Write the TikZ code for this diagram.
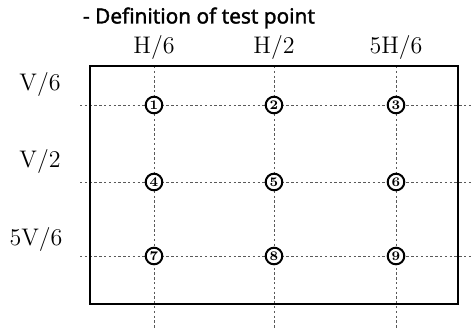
\documentclass[tikz,border=0pt]{standalone}
\usepackage{fontspec}
\newfontfamily\titlefont{Noto Sans}[FakeBold=1.6]
\usepackage{tikz}

\tikzset{
  guide/.style={gray!70!black, line width=0.5pt, dash pattern=on 1.2pt off 1.2pt},
  testpt/.style={circle, draw, line width=1pt, fill=white, inner sep=0pt,
    minimum size=8.3pt, font=\fontsize{6.6}{7}\selectfont\bfseries},
  axislbl/.style={font=\fontsize{12}{13}\selectfont}
}

\begin{document}
\begin{tikzpicture}[x=0.5pt, y=-0.5pt]
      \useasboundingbox (0,0) rectangle (471,329);
      \node[anchor=west, font=\titlefont\fontsize{10.4}{11}\selectfont] (title) at (76,18) {- Definition of test point};
      % column and row labels
      \node[axislbl] (h1) at (154,47) {H/6};
      \node[axislbl] (h2) at (274,47) {H/2};
      \node[axislbl] (h3) at (396,47) {5H/6};
      \node[axislbl] (v1) at (40,84)  {V/6};
      \node[axislbl] (v2) at (40,161) {V/2};
      \node[axislbl] (v3) at (36,239) {5V/6};
      % guide lines
      \foreach \x/\n in {154/1,274/2,396/3} {
        \coordinate (ct\n) at (\x,66);
        \coordinate (cb\n) at (\x,329);
        \draw[guide] (ct\n) -- (cb\n);
      }
      \foreach \y/\n in {105/1,182/2,256/3} {
        \coordinate (rl\n) at (80,\y);
        \coordinate (rr\n) at (471,\y);
        \draw[guide] (rl\n) -- (rr\n);
      }
      \draw[line width=1pt] (90,66) rectangle (458,304);
      % test points
      \node[testpt] (p1) at (154,105) {1};
      \node[testpt] (p2) at (274,105) {2};
      \node[testpt] (p3) at (396,105) {3};
      \node[testpt] (p4) at (154,182) {4};
      \node[testpt] (p5) at (274,182) {5};
      \node[testpt] (p6) at (396,182) {6};
      \node[testpt] (p7) at (154,256) {7};
      \node[testpt] (p8) at (274,256) {8};
      \node[testpt] (p9) at (396,256) {9};
    \end{tikzpicture}
\end{document}
